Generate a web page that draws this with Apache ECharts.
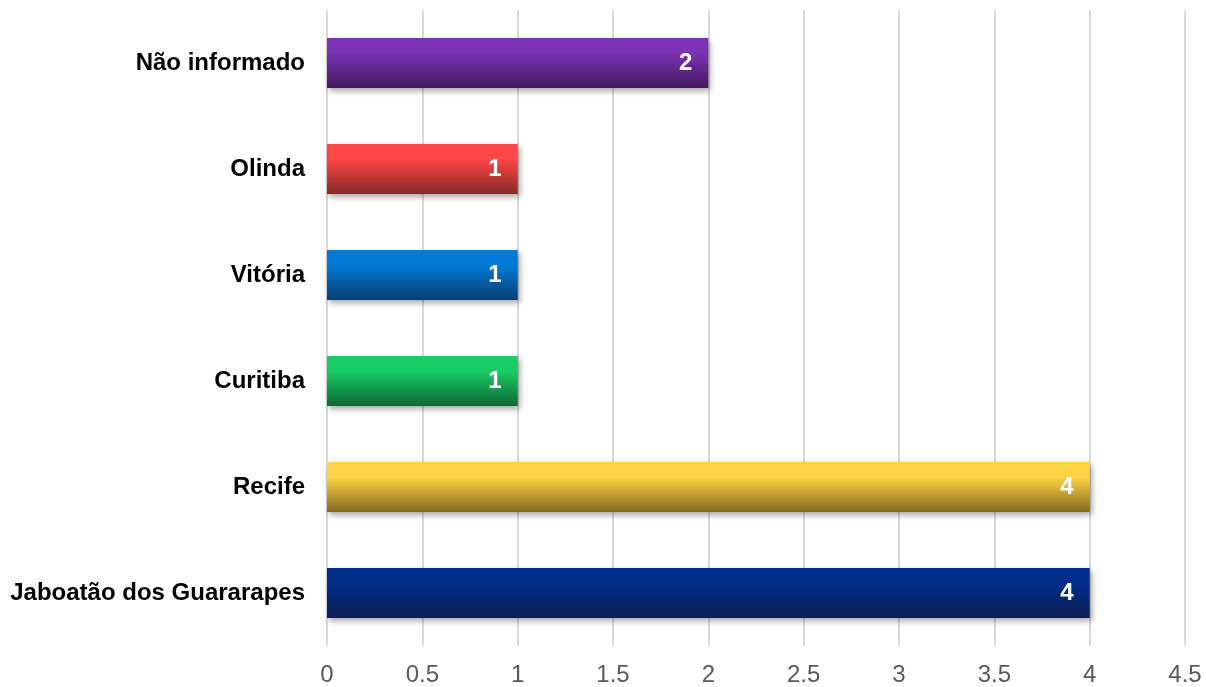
<!DOCTYPE html>
<html>
<head>
<meta charset="utf-8">
<script src="https://cdn.jsdelivr.net/npm/echarts@6/dist/echarts.min.js"></script>
<style>html,body{margin:0;padding:0;background:#fff}#c{width:1206px;height:687px}</style>
</head>
<body>
<div id="c"></div>
<script>
const categories = ["Jaboatão dos Guararapes", "Recife", "Curitiba", "Vitória", "Olinda", "Não informado"];
const values = [4, 4, 1, 1, 1, 2];
const xTicks = [0, 0.5, 1, 1.5, 2, 2.5, 3, 3.5, 4, 4.5];

const palette = [
  ["#002C8A", "#0F1E55"],
  ["#FFD444", "#846720"],
  ["#19CC66", "#0D6934"],
  ["#007AD6", "#0B3E72"],
  ["#FF4646", "#862828"],
  ["#7C32B4", "#43195F"]
];

const chart = echarts.init(document.getElementById('c'), null, {renderer: 'canvas'});
chart.setOption({
  animation: false,
  backgroundColor: '#ffffff',
  grid: {left: 327, right: 21, top: 10, bottom: 41, containLabel: false},
  xAxis: {
    type: 'value', min: xTicks[0], max: xTicks[xTicks.length - 1], interval: 0.5,
    axisLine: {show: false}, axisTick: {show: false},
    splitLine: {show: true, lineStyle: {color: '#d9d9d9', width: 2}},
    axisLabel: {color: '#595959', fontSize: 24, fontFamily: 'Liberation Sans, Arial, sans-serif', margin: 17}
  },
  yAxis: {
    type: 'category', data: categories,
    axisLine: {show: false}, axisTick: {show: false},
    axisLabel: {color: '#000000', fontSize: 24, fontWeight: 'bold', fontFamily: 'Liberation Sans, Arial, sans-serif', margin: 22}
  },
  series: [{
    type: 'bar',
    barWidth: 50,
    data: values.map((v, i) => ({
      value: v,
      itemStyle: {
        color: new echarts.graphic.LinearGradient(0, 0, 0, 1, [
          {offset: 0, color: palette[i][0]},
          {offset: 0.3, color: palette[i][0]},
          {offset: 1, color: palette[i][1]}
        ]),
        shadowColor: 'rgba(0,0,0,0.35)', shadowBlur: 6, shadowOffsetX: 2, shadowOffsetY: 3
      }
    })),
    label: {
      show: true, position: 'insideRight', distance: 16,
      color: '#ffffff', fontSize: 24, fontWeight: 'bold',
      fontFamily: 'Liberation Sans, Arial, sans-serif'
    }
  }]
});
</script>
</body>
</html>
